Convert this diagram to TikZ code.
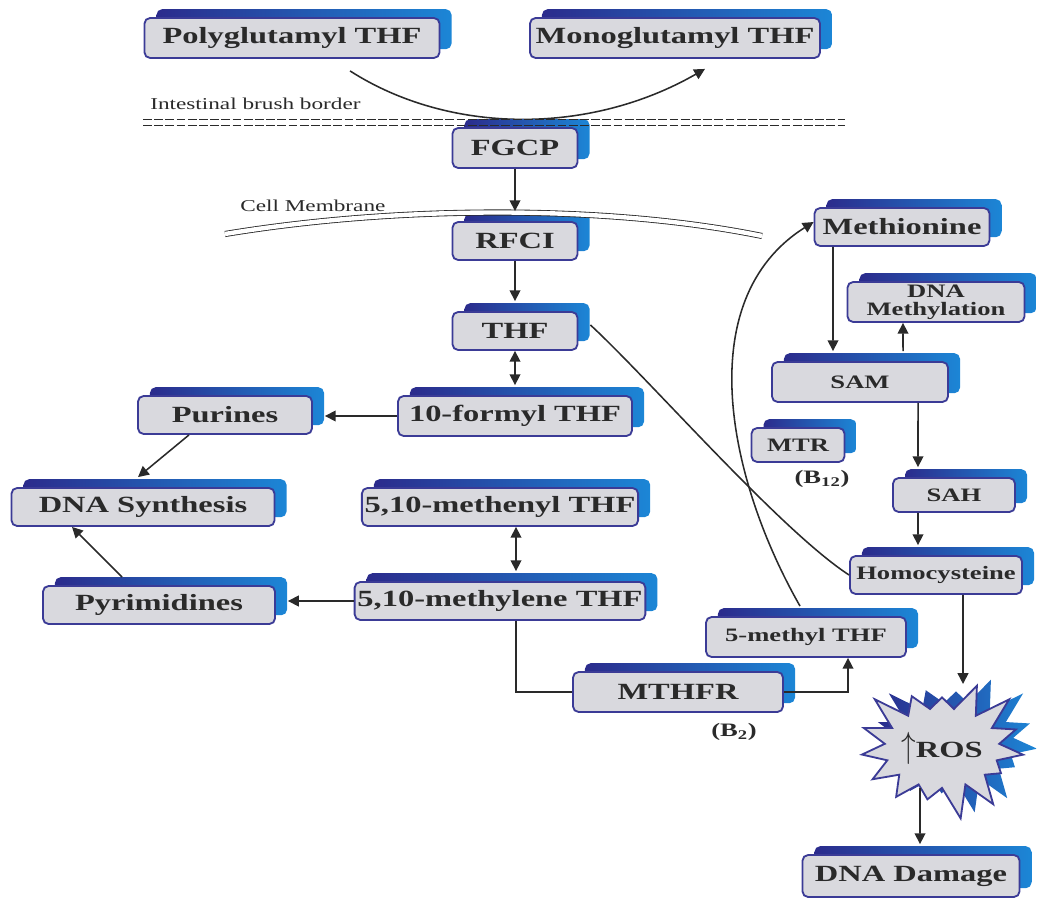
\documentclass[tikz,border=0pt]{standalone}
\usepackage{fontspec}
\usepackage{graphicx}
\setmainfont{Liberation Serif}[FakeStretch=1.4]
\usetikzlibrary{arrows.meta,shadows,shapes.symbols,backgrounds}
\definecolor{BoxFill}{HTML}{D9D9DE}
\definecolor{BoxEdge}{HTML}{3B3B96}
\definecolor{ShadeNavy}{HTML}{2B2B8C}
\definecolor{ShadeBlue}{HTML}{1C86D6}
\definecolor{InkDark}{HTML}{2A2A2A}

\begin{document}
\begin{tikzpicture}[
	x=0.025cm, y=-0.025cm, % pixel-like units, y pointing down
	% Style for the pathway boxes
	pathbox/.style={
		rectangle, rounded corners=4pt,
		draw=BoxEdge, fill=BoxFill, line width=1.3pt,
		text=InkDark, minimum height=1cm, inner sep=2pt,
		font=\fontsize{16.5}{18}\selectfont\bfseries,
		general shadow={shadow xshift=0.3cm, shadow yshift=0.22cm,
			left color=ShadeNavy, right color=ShadeBlue, draw=none}
	},
	% Same box with the smaller lettering
	smallbox/.style={pathbox, font=\fontsize{13.5}{12.5}\selectfont\bfseries},
	% Style for the connecting lines
	conn/.style={draw=InkDark, line width=1.1pt},
	flow/.style={conn, -{Triangle[length=2.7mm, width=2.7mm]}},
	twoway/.style={conn, {Triangle[length=2.7mm, width=2.7mm]}-{Triangle[length=2.7mm, width=2.7mm]}},
	% Membranes and their captions
	membrane/.style={draw=InkDark, line width=0.6pt, double=white, double distance=0.11cm},
	brush/.style={draw=InkDark, line width=0.6pt, dash pattern=on 0.22cm off 0.06cm},
	memlabel/.style={text=InkDark, font=\fontsize{11.8}{13}\selectfont, inner sep=0pt, anchor=west},
	cofactor/.style={text=InkDark, font=\fontsize{13.5}{14}\selectfont\bfseries, inner sep=0pt}
	]
	\useasboundingbox (0,0) rectangle (1037,898);
	
	% 1. Boxes
	\node[pathbox, minimum width=7.375cm] (poly) at (292,38) {Polyglutamyl THF};
	\node[pathbox, minimum width=7.25cm] (mono) at (675,38) {Monoglutamyl THF};
	\node[pathbox, minimum width=3.125cm] (fgcp) at (515,148) {FGCP};
	\node[pathbox, minimum width=3.125cm, minimum height=0.95cm] (rfci) at (515,241) {RFCI};
	\node[pathbox, minimum width=3.125cm, minimum height=0.95cm] (thf) at (515,331) {THF};
	\node[pathbox, minimum width=5.85cm] (formyl) at (515,416) {10-formyl THF};
	\node[pathbox, minimum width=4.35cm, minimum height=0.95cm] (purines) at (225,415) {Purines};
	\node[pathbox, minimum width=6.575cm, minimum height=0.95cm] (dnasyn) at (143,507) {DNA Synthesis};
	\node[pathbox, minimum width=6.625cm, minimum height=0.95cm] (methenyl) at (500,507) {5,10-methenyl THF};
	\node[pathbox, minimum width=6.625cm, minimum height=0.95cm] (methylene) at (500,601) {5,10-methylene THF};
	\node[pathbox, minimum width=5.8cm, minimum height=0.95cm] (pyrim) at (159,605) {Pyrimidines};
	\node[pathbox, minimum width=5.25cm] (mthfr) at (678,692) {MTHFR};
	\node[smallbox, minimum width=5cm] (methyl) at (806,637) {5-methyl THF};
	\node[pathbox, minimum width=4.375cm, minimum height=0.95cm] (methionine) at (902,227) {Methionine};
	\node[smallbox, minimum width=4.425cm, align=center] (dnameth) at (936,302) {DNA\\Methylation};
	\node[smallbox, minimum width=4.4cm] (sam) at (860,382) {SAM};
	\node[smallbox, minimum width=2.325cm, minimum height=0.85cm] (mtr) at (798,445) {MTR};
	\node[smallbox, minimum width=3.05cm, minimum height=0.85cm] (sah) at (954,495) {SAH};
	\node[smallbox, minimum width=4.3cm, minimum height=0.95cm] (homo) at (936,575) {Homocysteine};
	\node[pathbox, minimum width=5.425cm, minimum height=1.05cm] (dnadam) at (911,876) {DNA Damage};
	\node[starburst, starburst points=15, starburst point height=0.85cm, random starburst=3,
		draw=BoxEdge, fill=BoxFill, line width=1.3pt, inner xsep=0cm, inner ysep=0.3cm,
		text=InkDark, font=\fontsize{16.5}{18}\selectfont\bfseries,
		general shadow={shadow xshift=0.35cm, shadow yshift=0.15cm,
			left color=ShadeNavy, right color=ShadeBlue, draw=none}] (ros) at (942,748)
		{\scalebox{1.2}[1.5]{$\uparrow$}ROS};
	
	% Cofactors
	\node[cofactor] (btwelve) at (822,479) {(B\textsubscript{12})};
	\node[cofactor] (btwo) at (734,732) {(B\textsubscript{2})};
	
	% 2. Membranes
	\node[memlabel] (brushlabel) at (150,104) {Intestinal brush border};
	\draw[brush] (143,119) -- (845,119);
	\draw[brush] (143,125) -- (845,125);
	\node[memlabel] (celllabel) at (240,206) {Cell Membrane};
	\draw[membrane] (225,234) .. controls (400,205) and (610,205) .. (762,236);
	
	% 3. Uptake
	\begin{scope}[on background layer]
		\draw[flow] ([xshift=1.45cm, yshift=-0.3cm]poly.south) .. controls (450,135) and (590,135) .. ([xshift=0.75cm, yshift=-0.25cm]mono.south);
	\end{scope}
	\draw[flow] (fgcp) -- ([yshift=0.25cm]rfci.north);
	\draw[flow] (rfci) -- ([yshift=0.25cm]thf.north);
	
	% 4. Folate cycle
	\draw[twoway] (thf) -- ([yshift=0.25cm]formyl.north);
	\draw[flow] (formyl.west) -- ([xshift=0.3cm]purines.east |- formyl.west);
	\draw[flow] ([xshift=-0.9cm]purines.south) -- ([xshift=-0.125cm, yshift=0.25cm]dnasyn.north);
	\draw[flow] ([xshift=-0.925cm, yshift=0.2cm]pyrim.north) -- ([xshift=-1.775cm]dnasyn.south);
	\draw[twoway] ([xshift=0.4cm]methenyl.south) -- ([xshift=0.4cm, yshift=0.25cm]methylene.north);
	\draw[flow] (methylene.west) -- ([xshift=0.3cm]pyrim.east |- methylene.west);
	\draw[conn] ([xshift=0.4cm]methylene.south) |- (mthfr.west);
	\draw[flow] (mthfr.east) -| ([xshift=1.05cm]methyl.south);
	\draw[flow] ([xshift=-0.15cm, yshift=0.25cm]methyl.north) .. controls (728,480) and (690,300) .. ([yshift=0.125cm]methionine.west);
	\draw[conn] ([xshift=0.3cm, yshift=0.15cm]thf.east) .. controls (650,380) and (780,530) .. (homo.west);
	
	% 5. Methionine cycle
	\draw[flow] ([xshift=-1.725cm]methionine.south) -- ([xshift=-0.675cm, yshift=0.25cm]sam.north);
	\draw[flow] ([xshift=1.075cm, yshift=0.25cm]sam.north) -- ([xshift=-0.825cm]dnameth.south);
	\draw[flow] ([xshift=1.45cm]sam.south) -- ([xshift=-0.9cm, yshift=0.25cm]sah.north);
	\draw[flow] ([xshift=-0.9cm]sah.south) -- ([xshift=-0.45cm, yshift=0.25cm]homo.north);
	\draw[flow] ([xshift=0.675cm]homo.south) -- ([xshift=0.525cm, yshift=1.6cm]ros.center);
	\draw[flow] ([xshift=-0.55cm, yshift=-1cm]ros.center) -- ([xshift=0.225cm, yshift=0.25cm]dnadam.north);
	
\end{tikzpicture}
\end{document}
